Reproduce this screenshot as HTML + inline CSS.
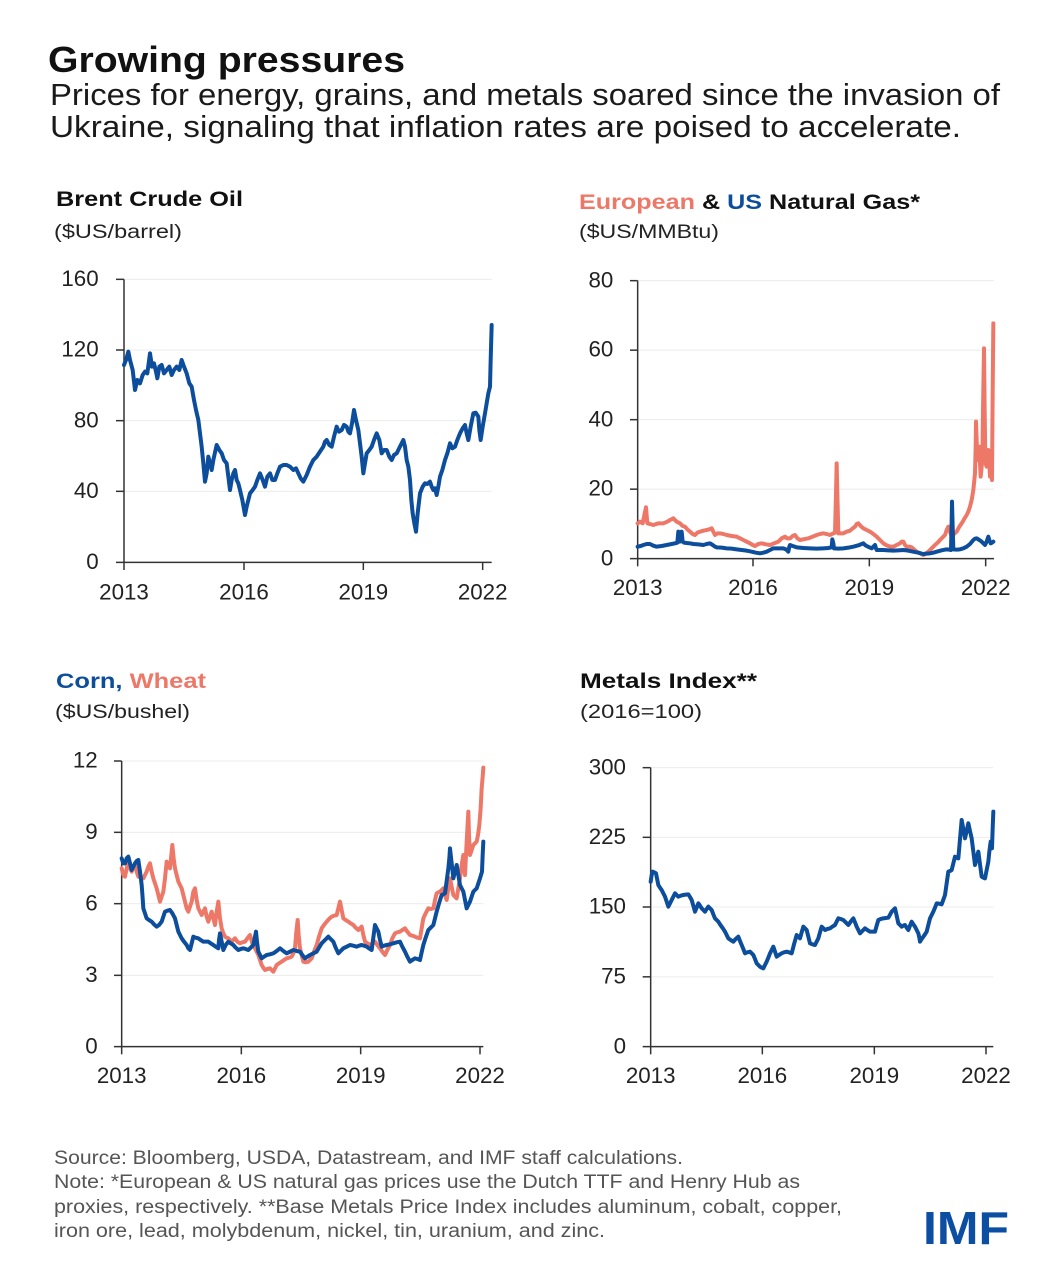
<!DOCTYPE html>
<html>
<head>
<meta charset="utf-8">
<style>
  html,body{margin:0;padding:0;background:#fff;}
  svg{display:block;}
  text{font-family:"Liberation Sans", sans-serif;}
</style>
</head>
<body>
<svg width="1059" height="1280" viewBox="0 0 1059 1280" xmlns="http://www.w3.org/2000/svg">
  <rect width="1059" height="1280" fill="#fff"/>

  <!-- Title -->
  <text x="48" y="72" font-size="36" font-weight="bold" fill="#111" textLength="357" lengthAdjust="spacingAndGlyphs">Growing pressures</text>
  <text x="50" y="105" font-size="31" fill="#1a1a1a" textLength="950" lengthAdjust="spacingAndGlyphs">Prices for energy, grains, and metals soared since the invasion of</text>
  <text x="50" y="137" font-size="31" fill="#1a1a1a" textLength="911" lengthAdjust="spacingAndGlyphs">Ukraine, signaling that inflation rates are poised to accelerate.</text>

  <!-- Chart titles -->
  <text x="56" y="206" font-size="21" font-weight="bold" fill="#111" textLength="187" lengthAdjust="spacingAndGlyphs">Brent Crude Oil</text>
  <text x="54" y="238" font-size="19" fill="#222" textLength="128" lengthAdjust="spacingAndGlyphs">($US/barrel)</text>

  <text x="579" y="209" font-size="21" font-weight="bold" fill="#111" textLength="341" lengthAdjust="spacingAndGlyphs"><tspan fill="#ee7868">European</tspan> &amp; <tspan fill="#0c4d9c">US</tspan> Natural Gas*</text>
  <text x="579" y="238" font-size="19" fill="#222" textLength="140" lengthAdjust="spacingAndGlyphs">($US/MMBtu)</text>

  <text x="56" y="688" font-size="21" font-weight="bold" fill="#111" textLength="150" lengthAdjust="spacingAndGlyphs"><tspan fill="#0c4d9c">Corn,</tspan> <tspan fill="#ee7868">Wheat</tspan></text>
  <text x="55" y="718" font-size="19" fill="#222" textLength="135" lengthAdjust="spacingAndGlyphs">($US/bushel)</text>

  <text x="580" y="688" font-size="21" font-weight="bold" fill="#111" textLength="177" lengthAdjust="spacingAndGlyphs">Metals Index**</text>
  <text x="580" y="718" font-size="19" fill="#222" textLength="122" lengthAdjust="spacingAndGlyphs">(2016=100)</text>

  <!-- Chart 1: Brent -->
  <g transform="translate(40,260) scale(0.333333)">
    <g stroke="#ebebeb" stroke-width="3">
      <line x1="252" y1="58" x2="1355" y2="58"/>
      <line x1="252" y1="270" x2="1355" y2="270"/>
      <line x1="252" y1="482" x2="1355" y2="482"/>
      <line x1="252" y1="694" x2="1355" y2="694"/>
    </g>
    <g stroke="#333" stroke-width="4.5">
      <line x1="252" y1="58" x2="252" y2="907"/>
      <line x1="228" y1="907" x2="1355" y2="907"/>
      <line x1="228" y1="58" x2="252" y2="58"/>
      <line x1="228" y1="270" x2="252" y2="270"/>
      <line x1="228" y1="482" x2="252" y2="482"/>
      <line x1="228" y1="694" x2="252" y2="694"/>
      <line x1="252" y1="907" x2="252" y2="930"/>
      <line x1="612" y1="907" x2="612" y2="930"/>
      <line x1="970" y1="907" x2="970" y2="930"/>
      <line x1="1328" y1="907" x2="1328" y2="930"/>
    </g>
    <g font-size="67" fill="#222" text-anchor="end">
      <text x="176" y="78">160</text>
      <text x="176" y="290">120</text>
      <text x="176" y="502">80</text>
      <text x="176" y="714">40</text>
      <text x="176" y="927">0</text>
    </g>
    <g font-size="67" fill="#222" text-anchor="middle">
      <text x="252" y="1018">2013</text>
      <text x="612" y="1018">2016</text>
      <text x="970" y="1018">2019</text>
      <text x="1328" y="1018">2022</text>
    </g>
    <polyline fill="none" stroke="#0c4d9c" stroke-width="12" stroke-linejoin="round" stroke-linecap="round" points="252,315 258,300 265,275 270,300 278,330 285,390 292,360 300,370 308,345 315,335 322,340 330,280 336,320 342,310 348,335 352,355 358,320 365,315 372,340 380,330 388,320 395,345 402,330 410,320 418,330 425,300 432,320 440,340 448,370 455,380 462,420 468,450 475,480 480,520 485,560 490,610 495,665 500,640 505,590 510,610 515,630 520,600 530,555 538,570 545,580 552,600 560,610 565,650 570,690 575,660 580,640 585,630 590,660 595,670 600,690 607,720 615,765 620,740 625,720 630,700 638,690 645,680 652,660 660,640 668,660 675,680 682,650 690,640 697,660 705,660 712,640 720,620 730,615 740,615 750,620 760,630 768,625 775,640 782,655 790,665 800,645 810,620 820,600 830,590 840,575 850,560 855,545 860,540 868,555 875,560 882,530 890,500 897,515 905,510 912,495 920,500 925,515 930,520 936,490 942,450 948,480 955,510 960,550 965,590 970,640 975,610 980,580 988,570 995,560 1002,540 1010,520 1018,540 1025,580 1032,570 1040,570 1048,590 1055,600 1062,585 1070,580 1080,560 1090,540 1095,560 1100,600 1105,620 1110,660 1114,720 1118,760 1123,790 1128,815 1133,760 1140,700 1148,680 1155,670 1162,672 1170,665 1175,680 1180,690 1185,685 1190,705 1195,680 1200,650 1207,630 1215,600 1222,580 1230,550 1237,565 1245,560 1252,540 1260,520 1268,505 1275,495 1280,520 1285,540 1292,500 1300,460 1307,458 1315,470 1318,510 1322,540 1328,500 1335,460 1340,430 1345,400 1350,380 1352,300 1355,195"/>
  </g>

  <!-- Chart 2: Natural gas -->
  <g transform="translate(570,260) scale(0.333333)">
    <g stroke="#ebebeb" stroke-width="3">
      <line x1="203" y1="62" x2="1272" y2="62"/>
      <line x1="203" y1="270.5" x2="1272" y2="270.5"/>
      <line x1="203" y1="479" x2="1272" y2="479"/>
      <line x1="203" y1="687.5" x2="1272" y2="687.5"/>
    </g>
    <g stroke="#333" stroke-width="4.5">
      <line x1="203" y1="62" x2="203" y2="896"/>
      <line x1="180" y1="896" x2="1272" y2="896"/>
      <line x1="180" y1="62" x2="203" y2="62"/>
      <line x1="180" y1="270.5" x2="203" y2="270.5"/>
      <line x1="180" y1="479" x2="203" y2="479"/>
      <line x1="180" y1="687.5" x2="203" y2="687.5"/>
      <line x1="203" y1="896" x2="203" y2="919"/>
      <line x1="549" y1="896" x2="549" y2="919"/>
      <line x1="898" y1="896" x2="898" y2="919"/>
      <line x1="1247" y1="896" x2="1247" y2="919"/>
    </g>
    <g font-size="67" fill="#222" text-anchor="end">
      <text x="130" y="82">80</text>
      <text x="130" y="290">60</text>
      <text x="130" y="499">40</text>
      <text x="130" y="707">20</text>
      <text x="130" y="916">0</text>
    </g>
    <g font-size="67" fill="#222" text-anchor="middle">
      <text x="203" y="1005">2013</text>
      <text x="549" y="1005">2016</text>
      <text x="898" y="1005">2019</text>
      <text x="1247" y="1005">2022</text>
    </g>
    <polyline fill="none" stroke="#ee7868" stroke-width="12" stroke-linejoin="round" stroke-linecap="round" points="203,790 210,785 218,790 224,760 228,742 232,790 240,792 250,795 265,790 280,790 292,785 300,780 310,775 320,785 330,790 338,798 345,800 352,808 360,815 368,822 375,825 382,818 390,815 400,812 410,810 418,808 425,805 430,815 435,825 442,820 450,820 460,822 470,825 485,828 500,830 510,835 520,840 530,845 540,850 548,855 555,858 565,852 575,850 588,853 600,855 612,850 625,845 635,835 645,830 652,835 660,835 668,828 675,825 682,835 690,840 700,838 715,835 728,830 740,825 750,822 760,820 770,822 780,825 790,820 795,818 798,700 800,610 802,700 805,820 812,820 820,820 830,815 840,812 848,805 855,800 860,792 865,790 872,798 880,805 890,810 900,815 910,822 920,830 930,840 940,850 948,855 955,858 962,860 970,860 980,855 990,850 995,845 1000,845 1005,855 1010,860 1018,860 1025,862 1032,868 1040,875 1050,880 1060,885 1068,880 1075,875 1085,865 1095,855 1103,848 1110,840 1118,832 1125,825 1130,810 1135,800 1140,815 1145,830 1152,822 1160,815 1168,800 1175,790 1182,778 1190,765 1195,755 1200,740 1205,720 1210,690 1213,660 1215,640 1217,560 1218,485 1220,540 1222,600 1225,580 1228,560 1230,610 1232,650 1235,620 1237,600 1239,450 1242,265 1244,450 1246,600 1248,615 1250,620 1253,590 1255,570 1258,610 1260,650 1262,620 1263,590 1265,620 1266,660 1268,400 1270,190"/>
    <polyline fill="none" stroke="#0c4d9c" stroke-width="12" stroke-linejoin="round" stroke-linecap="round" points="203,860 212,858 220,855 230,852 240,852 250,857 260,860 275,858 290,855 305,852 315,850 322,848 325,815 330,845 335,815 338,845 342,848 350,849 360,850 370,852 385,853 400,855 410,852 420,850 428,855 435,860 440,862 455,863 470,865 485,866 500,868 515,870 530,872 540,874 545,875 558,878 570,880 580,878 590,875 600,870 610,865 625,865 640,865 648,868 655,875 658,860 660,855 668,858 680,862 700,864 720,865 740,866 760,865 775,864 785,862 787,838 790,850 792,865 805,866 820,865 835,863 850,860 865,856 875,852 880,850 885,855 890,858 898,862 905,865 910,860 915,855 918,865 920,870 930,870 940,870 955,871 970,872 985,871 1000,870 1015,872 1030,875 1045,878 1060,882 1070,881 1080,880 1090,878 1100,875 1115,871 1130,868 1138,869 1143,870 1145,780 1146,725 1148,800 1150,868 1160,869 1170,868 1180,865 1190,860 1200,852 1210,840 1215,836 1220,835 1228,840 1235,845 1240,850 1245,855 1250,845 1255,830 1258,840 1262,850 1266,848 1270,845"/>
  </g>

  <!-- Chart 3: Corn, Wheat -->
  <g transform="translate(40,745) scale(0.333333)">
    <g stroke="#ebebeb" stroke-width="3">
      <line x1="245" y1="48" x2="1330" y2="48"/>
      <line x1="245" y1="262" x2="1330" y2="262"/>
      <line x1="245" y1="476" x2="1330" y2="476"/>
      <line x1="245" y1="691" x2="1330" y2="691"/>
    </g>
    <g stroke="#333" stroke-width="4.5">
      <line x1="245" y1="48" x2="245" y2="905"/>
      <line x1="222" y1="905" x2="1330" y2="905"/>
      <line x1="222" y1="48" x2="245" y2="48"/>
      <line x1="222" y1="262" x2="245" y2="262"/>
      <line x1="222" y1="476" x2="245" y2="476"/>
      <line x1="222" y1="691" x2="245" y2="691"/>
      <line x1="245" y1="905" x2="245" y2="928"/>
      <line x1="604" y1="905" x2="604" y2="928"/>
      <line x1="962" y1="905" x2="962" y2="928"/>
      <line x1="1320" y1="905" x2="1320" y2="928"/>
    </g>
    <g font-size="67" fill="#222" text-anchor="end">
      <text x="173" y="68">12</text>
      <text x="173" y="282">9</text>
      <text x="173" y="496">6</text>
      <text x="173" y="711">3</text>
      <text x="173" y="925">0</text>
    </g>
    <g font-size="67" fill="#222" text-anchor="middle">
      <text x="245" y="1014">2013</text>
      <text x="604" y="1014">2016</text>
      <text x="962" y="1014">2019</text>
      <text x="1320" y="1014">2022</text>
    </g>
    <polyline fill="none" stroke="#ee7868" stroke-width="12" stroke-linejoin="round" stroke-linecap="round" points="245,370 250,390 255,395 260,370 265,350 270,370 275,380 280,365 285,360 290,380 295,395 302,398 310,400 315,390 320,380 325,365 330,355 335,380 340,400 345,415 350,430 355,450 360,470 365,455 370,440 375,400 380,350 385,365 390,370 394,330 397,300 401,340 405,370 410,390 415,410 420,420 425,430 430,450 435,470 440,490 445,500 450,485 455,470 460,440 465,430 470,465 475,490 480,500 485,510 490,500 495,490 500,515 505,530 510,515 515,500 520,520 525,540 530,500 535,470 540,520 545,550 550,565 555,575 560,578 565,580 570,585 575,590 580,585 585,580 592,590 600,595 607,592 615,590 622,580 630,570 637,595 645,610 650,620 655,630 660,645 665,660 670,668 675,675 682,672 690,670 695,675 700,680 705,670 710,660 717,655 725,650 732,645 740,640 747,638 755,635 760,625 765,610 769,560 773,525 776,570 780,610 785,630 790,650 797,652 805,650 810,645 815,640 822,620 830,600 837,575 845,550 852,540 860,530 867,522 875,515 882,512 890,510 895,490 900,470 905,495 910,520 917,525 925,530 932,535 940,540 947,548 955,555 960,550 965,545 970,570 975,590 982,595 990,600 997,595 1005,590 1012,600 1020,610 1027,620 1035,630 1042,615 1050,600 1057,580 1065,565 1072,562 1080,560 1087,555 1095,550 1102,560 1110,570 1117,572 1125,575 1132,578 1140,580 1145,550 1150,520 1157,505 1165,490 1172,492 1180,490 1185,465 1190,445 1195,442 1200,440 1205,435 1210,430 1215,450 1220,465 1225,430 1230,400 1235,425 1240,450 1245,455 1250,460 1255,430 1260,400 1265,360 1270,330 1272,360 1275,390 1280,290 1285,200 1287,270 1290,330 1295,315 1300,300 1305,295 1310,290 1314,270 1318,240 1322,190 1325,130 1328,95 1330,68"/>
    <polyline fill="none" stroke="#0c4d9c" stroke-width="12" stroke-linejoin="round" stroke-linecap="round" points="245,340 250,355 255,355 260,340 265,335 270,355 275,375 280,365 285,355 290,348 295,345 300,380 305,420 308,460 310,490 315,505 320,520 327,525 335,530 342,538 350,545 357,540 365,530 370,515 375,500 382,497 390,495 397,505 405,520 410,540 415,560 420,570 425,580 432,590 440,600 445,610 450,615 455,595 460,575 467,578 475,580 482,585 490,590 497,590 505,590 512,595 520,600 527,605 535,610 537,585 540,565 545,590 550,615 557,600 565,590 572,595 580,600 587,608 595,615 602,612 610,610 617,612 625,615 632,608 640,600 644,580 648,560 651,590 655,620 660,630 665,640 672,635 680,630 690,628 700,625 710,618 720,610 730,618 740,625 750,620 760,615 770,618 780,620 787,630 795,640 802,635 810,630 820,625 830,620 837,608 845,595 855,585 865,575 872,582 880,590 887,608 895,625 902,618 910,610 920,605 930,600 940,602 950,605 957,602 965,600 972,602 980,605 987,610 995,615 1000,578 1005,540 1010,550 1015,560 1020,585 1025,605 1032,602 1040,600 1050,598 1060,595 1070,592 1080,590 1087,605 1095,620 1102,635 1110,650 1117,645 1125,640 1132,642 1140,645 1145,622 1150,600 1157,578 1165,555 1172,548 1180,540 1185,520 1190,500 1197,475 1205,450 1210,448 1215,445 1220,408 1225,370 1228,340 1230,310 1235,355 1240,400 1245,380 1250,360 1255,390 1260,420 1265,430 1270,440 1275,465 1280,490 1285,480 1290,470 1295,455 1300,440 1305,435 1310,430 1315,415 1320,400 1323,390 1326,380 1328,330 1330,290"/>
  </g>

  <!-- Chart 4: Metals -->
  <g transform="translate(570,745) scale(0.333333)">
    <g stroke="#ebebeb" stroke-width="3">
      <line x1="242" y1="68" x2="1270" y2="68"/>
      <line x1="242" y1="277" x2="1270" y2="277"/>
      <line x1="242" y1="486" x2="1270" y2="486"/>
      <line x1="242" y1="695.5" x2="1270" y2="695.5"/>
    </g>
    <g stroke="#333" stroke-width="4.5">
      <line x1="242" y1="68" x2="242" y2="905"/>
      <line x1="218" y1="905" x2="1270" y2="905"/>
      <line x1="218" y1="68" x2="242" y2="68"/>
      <line x1="218" y1="277" x2="242" y2="277"/>
      <line x1="218" y1="486" x2="242" y2="486"/>
      <line x1="218" y1="695.5" x2="242" y2="695.5"/>
      <line x1="242" y1="905" x2="242" y2="928"/>
      <line x1="577" y1="905" x2="577" y2="928"/>
      <line x1="913" y1="905" x2="913" y2="928"/>
      <line x1="1248" y1="905" x2="1248" y2="928"/>
    </g>
    <g font-size="67" fill="#222" text-anchor="end">
      <text x="168" y="88">300</text>
      <text x="168" y="297">225</text>
      <text x="168" y="506">150</text>
      <text x="168" y="715">75</text>
      <text x="168" y="925">0</text>
    </g>
    <g font-size="67" fill="#222" text-anchor="middle">
      <text x="242" y="1014">2013</text>
      <text x="577" y="1014">2016</text>
      <text x="913" y="1014">2019</text>
      <text x="1248" y="1014">2022</text>
    </g>
    <polyline fill="none" stroke="#0c4d9c" stroke-width="12" stroke-linejoin="round" stroke-linecap="round" points="242,410 245,390 248,380 253,382 258,385 262,405 265,420 270,428 275,435 280,445 285,455 290,470 295,485 300,475 305,465 310,455 315,445 320,450 325,455 332,452 340,450 347,449 355,448 360,456 365,465 370,482 375,500 380,488 385,475 390,482 395,490 400,495 405,500 410,492 415,485 420,490 425,495 430,508 435,520 440,525 445,530 450,538 455,545 460,552 465,560 470,570 475,580 482,585 490,590 497,582 505,575 510,588 515,600 520,612 525,625 532,622 540,620 545,625 550,630 555,642 560,655 565,660 570,665 575,668 580,670 585,660 590,650 595,638 600,625 605,615 610,605 615,620 620,635 627,630 635,625 642,622 650,620 657,622 665,625 672,598 680,570 685,575 690,580 695,562 700,545 705,550 710,555 715,575 720,595 727,598 735,600 740,590 745,580 750,562 755,545 760,550 765,555 772,552 780,550 787,545 795,540 800,530 805,520 812,522 820,525 827,532 835,540 842,530 850,520 855,532 860,545 865,555 870,565 877,558 885,550 892,555 900,560 907,560 915,560 920,542 925,525 932,522 940,520 947,519 955,518 960,509 965,500 970,495 975,490 980,512 985,535 990,540 995,545 1000,542 1005,540 1010,548 1015,555 1020,542 1025,530 1030,538 1035,545 1040,555 1045,565 1048,578 1050,590 1055,582 1060,575 1065,568 1070,560 1075,540 1080,520 1085,510 1090,500 1095,488 1100,475 1107,476 1115,478 1120,464 1125,450 1130,415 1135,380 1140,378 1145,375 1150,355 1155,335 1160,338 1165,340 1170,282 1175,225 1180,252 1185,280 1190,258 1195,235 1200,258 1205,280 1210,320 1215,360 1220,340 1225,320 1230,358 1235,395 1240,398 1245,400 1250,375 1255,350 1258,320 1262,290 1264,300 1266,310 1268,250 1270,200"/>
  </g>

  <!-- Footer -->
  <g font-size="19" fill="#555">
    <text x="54" y="1164" textLength="629" lengthAdjust="spacingAndGlyphs">Source: Bloomberg, USDA, Datastream, and IMF staff calculations.</text>
    <text x="54" y="1188" textLength="746" lengthAdjust="spacingAndGlyphs">Note: *European &amp; US natural gas prices use the Dutch TTF and Henry Hub as</text>
    <text x="54" y="1213" textLength="788" lengthAdjust="spacingAndGlyphs">proxies, respectively. **Base Metals Price Index includes aluminum, cobalt, copper,</text>
    <text x="54" y="1237" textLength="551" lengthAdjust="spacingAndGlyphs">iron ore, lead, molybdenum, nickel, tin, uranium, and zinc.</text>
  </g>

  <!-- IMF logo -->
  <text x="923" y="1244" font-size="46" font-weight="bold" fill="#0b4ea2" textLength="86" lengthAdjust="spacingAndGlyphs">IMF</text>
</svg>
</body>
</html>
